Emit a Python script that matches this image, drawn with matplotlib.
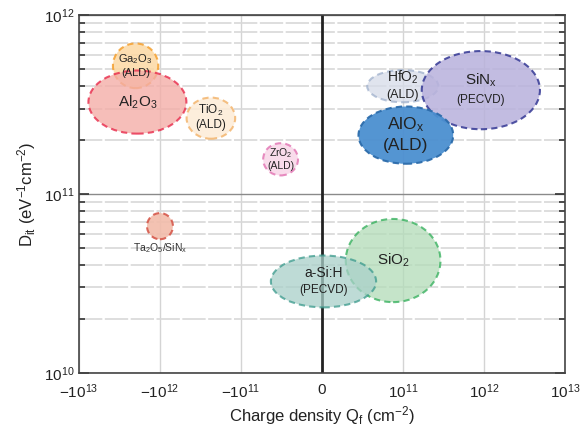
import numpy as np
import matplotlib
matplotlib.use("Agg")
import matplotlib.pyplot as plt
from matplotlib.patches import Ellipse
from matplotlib.ticker import FixedLocator, FixedFormatter, LogLocator, NullFormatter

plt.rcParams['font.family'] = ['Liberation Sans', 'DejaVu Sans']
plt.rcParams['mathtext.fontset'] = 'custom'
plt.rcParams['mathtext.rm'] = 'Liberation Sans'
plt.rcParams['mathtext.default'] = 'regular'

# passivation layers: centre Qf (cm^-2), centre Dit (eV^-1 cm^-2),
# spread in decades (x on the symlog axis, y on the log axis)
names = ['Ga$_2$O$_3$', 'Al$_2$O$_3$', 'TiO$_2$', 'ZrO$_2$', '',
         'HfO$_2$', 'SiN$_x$', 'AlO$_x$', 'SiO$_2$', 'a-Si:H']
methods = ['(ALD)', '', '(ALD)', '(ALD)', '',
           '(ALD)', '(PECVD)', '(ALD)', '', '(PECVD)']
qf = [-2.0e12, -1.9e12, -2.35e11, -5.1e10, -1.0e12, 1.0e11, 9.2e11, 1.09e11, 8.8e10, 2e9]
dit = [5.2e11, 3.26e11, 2.65e11, 1.56e11, 6.6e10, 4.0e11, 3.8e11, 2.13e11, 4.24e10, 3.24e10]
w_dec = [0.56, 1.21, 0.60, 0.43, 0.32, 0.88, 1.46, 1.17, 1.17, 1.30]
h_dec = [0.25, 0.353, 0.23, 0.18, 0.146, 0.18, 0.437, 0.32, 0.465, 0.29]

fills = ['#fcd9a4', '#f4aea8', '#fdebd6', '#f9d6e8', '#f2bcaa',
         '#d6dce9', '#b8b1dc', '#4b8fd0', '#b2dcb8', '#a9d0c9']
edges = ['#f4a030', '#e8294a', '#f3b56e', '#e37ab6', '#d6594c',
         '#9fb0cc', '#343894', '#2c6cab', '#2fae58', '#3a9a8c']
alphas = [0.85, 0.8, 0.85, 0.85, 0.9, 0.75, 0.85, 0.95, 0.75, 0.75]
fs_name = [8, 11, 8.5, 7.5, 7, 10, 11, 12.5, 11, 10]
fs_meth = [8, 11, 8.5, 7.5, 7, 9, 8.5, 12.5, 11, 8.5]

tick_q = [-1e13, -1e12, -1e11, 0, 1e11, 1e12, 1e13]
tick_labels = ['$-10^{13}$', '$-10^{12}$', '$-10^{11}$', '0',
               '$10^{11}$', '$10^{12}$', '$10^{13}$']

fig = plt.figure(figsize=(5.81, 4.28), dpi=100)
ax = fig.add_axes([0.136, 0.129, 0.836, 0.836])

# linear part (0..1e11) spans one decade width
ax.set_xscale('symlog', linthresh=1e11, linscale=0.9)
ax.set_yscale('log')
ax.set_xlim(-1e13, 1e13)
ax.set_ylim(1e10, 1e12)

ax.xaxis.set_major_locator(FixedLocator(tick_q))
ax.xaxis.set_major_formatter(FixedFormatter(tick_labels))
ax.xaxis.set_minor_locator(FixedLocator([]))
ax.yaxis.set_major_locator(LogLocator(base=10))
ax.yaxis.set_minor_locator(LogLocator(base=10, subs=np.arange(2, 10)))
ax.yaxis.set_minor_formatter(NullFormatter())

ax.grid(True, axis='x', which='major', color='#d4d4d4', lw=1.0)
ax.grid(True, axis='y', which='minor', color='#d8d8d8', lw=1.2, ls=(0, (14, 1.5)))
ax.grid(True, axis='y', which='major', color='#8a8a8a', lw=1.0)
ax.set_axisbelow(True)

ax.tick_params(axis='y', which='both', direction='in', left=True, right=True, colors='#333333')
ax.tick_params(axis='y', which='major', length=7, width=1.2)
ax.tick_params(axis='y', which='minor', length=4, width=1.2)
ax.tick_params(axis='x', which='both', length=0, pad=7)
ax.tick_params(labelsize=11, labelcolor='#222222')
for s in ax.spines.values():
    s.set_color('#444444')
    s.set_linewidth(1.2)

ax.axvline(0, color='#222222', lw=2, zorder=2)

fig.canvas.draw()
scaled = ax.transLimits + ax.transAxes
for i in range(len(qf)):
    cx, cy = ax.transScale.transform((qf[i], dit[i]))
    e = Ellipse((cx, cy), w_dec[i] * 1e11, h_dec[i], transform=scaled,
                facecolor=fills[i], edgecolor=edges[i], alpha=alphas[i],
                lw=1.5, ls=(0, (3, 2)), zorder=3 + i)
    ax.add_patch(e)
    if not names[i]:
        continue
    if not methods[i]:
        ax.text(qf[i], dit[i], names[i], ha='center', va='center',
                fontsize=fs_name[i], color='#222222', zorder=20)
        continue
    off = 0.62 * max(fs_name[i], fs_meth[i])
    ax.annotate(names[i], (qf[i], dit[i]), xytext=(0, off), textcoords='offset points',
                ha='center', va='center', fontsize=fs_name[i], color='#222222', zorder=20)
    ax.annotate(methods[i], (qf[i], dit[i]), xytext=(0, -off), textcoords='offset points',
                ha='center', va='center', fontsize=fs_meth[i], color='#222222', zorder=20)

ax.text(qf[4], 5.0e10, 'Ta$_2$O$_5$/SiN$_x$', ha='center', va='center', fontsize=7.5,
        color='#333333', zorder=20)

ax.set_xlabel('Charge density Q$_f$ (cm$^{-2}$)', fontsize=12, color='#222222', labelpad=2)
ax.set_ylabel('D$_{it}$ (eV$^{-1}$cm$^{-2}$)', fontsize=12, color='#222222', labelpad=4)

fig.savefig('out.png', dpi=100)
